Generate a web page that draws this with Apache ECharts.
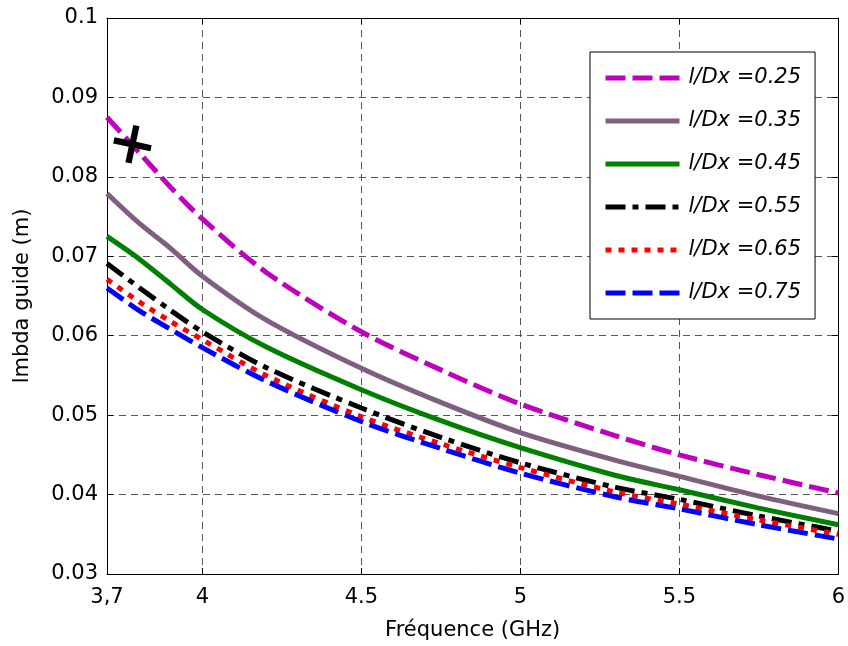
<!DOCTYPE html>
<html>
<head>
<meta charset="utf-8">
<script src="https://cdn.jsdelivr.net/npm/echarts@6/dist/echarts.min.js"></script>
<style>html,body{margin:0;padding:0;background:#fff;}#c{width:848px;height:646px;}</style>
</head>
<body>
<div id="c"></div>
<script>
// ---- data ----
var freq = [3.7, 3.8, 3.9, 4.0, 4.2, 4.5, 4.75, 5.0, 5.3, 5.5, 5.75, 6.0];
var seriesNames = ['l/Dx =0.25', 'l/Dx =0.35', 'l/Dx =0.45', 'l/Dx =0.55', 'l/Dx =0.65', 'l/Dx =0.75'];
var lg025 = [0.0875, 0.0831, 0.0787, 0.0747, 0.0680, 0.0605, 0.0557, 0.0514, 0.0474, 0.0450, 0.0425, 0.0402];
var lg035 = [0.0779, 0.0742, 0.0710, 0.0675, 0.0620, 0.0559, 0.0516, 0.0478, 0.0443, 0.0423, 0.0398, 0.0376];
var lg045 = [0.0725, 0.0697, 0.0665, 0.0633, 0.0586, 0.0532, 0.0493, 0.0459, 0.0424, 0.0406, 0.0383, 0.0362];
var lg055 = [0.0691, 0.0661, 0.0632, 0.0605, 0.0560, 0.0509, 0.0472, 0.0440, 0.0409, 0.0394, 0.0373, 0.0354];
var lg065 = [0.0671, 0.0643, 0.0618, 0.0595, 0.0550, 0.0498, 0.0464, 0.0434, 0.0403, 0.0388, 0.0368, 0.0350];
var lg075 = [0.0660, 0.0632, 0.0608, 0.0585, 0.0543, 0.0492, 0.0458, 0.0427, 0.0397, 0.0382, 0.0362, 0.0344];
var crossPoint = [3.78, 0.0841];
var xTickValues = [3.7, 4, 4.5, 5, 5.5, 6];
var xTickLabels = ['3,7', '4', '4.5', '5', '5.5', '6'];
var yTickValues = [0.03, 0.04, 0.05, 0.06, 0.07, 0.08, 0.09, 0.1];
var yTickLabels = ['0.03', '0.04', '0.05', '0.06', '0.07', '0.08', '0.09', '0.1'];

// ---- styles ----
var allValues = [lg025, lg035, lg045, lg055, lg065, lg075];
var colors = ['#BF00BF', '#7F5F7F', '#007F00', '#000000', '#FF0000', '#0000FF'];
var dashes = [[20, 7], 'solid', 'solid', [20, 7, 6, 7], [6, 7], [20, 7]];

function pairs(ys) { return freq.map(function (x, i) { return [x, ys[i]]; }); }
function lbl(values, labels) {
  return function (v) {
    for (var i = 0; i < values.length; i++) if (Math.abs(values[i] - v) < 1e-6) return labels[i];
    return '';
  };
}

var tickFont = { fontFamily: 'DejaVu Sans', fontSize: 21, color: '#000' };
var gridLine = { show: true, lineStyle: { color: '#555', width: 1, type: [7, 5] } };

var series = allValues.map(function (vals, i) {
  return {
    name: seriesNames[i], type: 'line', data: pairs(vals), symbol: 'none',
    smooth: 0.3,
    lineStyle: { color: colors[i], width: 5, type: dashes[i], cap: 'butt' },
    itemStyle: { color: colors[i] }, z: 3 + i
  };
});
series.push({
  name: 'marker', type: 'scatter', data: [crossPoint],
  symbol: 'path://M-3,-18 L3,-18 L3,-3 L18,-3 L18,3 L3,3 L3,18 L-3,18 L-3,3 L-18,3 L-18,-3 L-3,-3 Z',
  symbolSize: 38, symbolRotate: -12, itemStyle: { color: '#000', opacity: 1 }, z: 10, silent: true
});

var chart = echarts.init(document.getElementById('c'), null, { renderer: 'canvas' });
chart.setOption({
  animation: false,
  backgroundColor: '#fff',
  grid: { left: 107, right: 8, top: 18, bottom: 71, containLabel: false },
  legend: {
    data: seriesNames, orient: 'vertical', left: 590, top: 52,
    backgroundColor: '#fff', borderColor: '#000', borderWidth: 1,
    padding: [15, 14, 15, 13], itemGap: 21, itemWidth: 74, itemHeight: 8,
    itemStyle: { opacity: 0 },
    lineStyle: { width: 5 },
    textStyle: { fontFamily: 'DejaVu Sans', fontStyle: 'italic', fontSize: 21, color: '#000', lineHeight: 22, padding: [0, 0, 0, 4] },
    selectedMode: false
  },
  xAxis: [{
    type: 'value', min: 3.7, max: 6, position: 'bottom',
    name: 'Fréquence (GHz)', nameLocation: 'middle', nameGap: 46,
    nameTextStyle: { fontFamily: 'DejaVu Sans', fontSize: 21, color: '#000' },
    axisLine: { show: true, onZero: false, lineStyle: { color: '#000', width: 1 } },
    axisTick: { show: true, inside: true, length: 6, customValues: xTickValues, lineStyle: { color: '#000' } },
    axisLabel: Object.assign({ margin: 13, customValues: xTickValues, formatter: lbl(xTickValues, xTickLabels), showMinLabel: true, showMaxLabel: true }, tickFont),
    splitLine: gridLine
  }, {
    type: 'value', min: 3.7, max: 6, position: 'top',
    axisLine: { show: true, onZero: false, lineStyle: { color: '#000', width: 1 } },
    axisTick: { show: true, inside: true, length: 6, customValues: xTickValues, lineStyle: { color: '#000' } },
    axisLabel: { show: false }, splitLine: { show: false }
  }],
  yAxis: [{
    type: 'value', min: 0.03, max: 0.1, interval: 0.01, position: 'left',
    name: 'lmbda guide (m)', nameLocation: 'middle', nameGap: 74,
    nameTextStyle: { fontFamily: 'DejaVu Sans', fontSize: 21, color: '#000' },
    axisLine: { show: true, onZero: false, lineStyle: { color: '#000', width: 1 } },
    axisTick: { show: true, inside: true, length: 6, lineStyle: { color: '#000' } },
    axisLabel: Object.assign({ margin: 9, formatter: lbl(yTickValues, yTickLabels), showMinLabel: true, showMaxLabel: true }, tickFont),
    splitLine: gridLine
  }, {
    type: 'value', min: 0.03, max: 0.1, interval: 0.01, position: 'right',
    axisLine: { show: true, onZero: false, lineStyle: { color: '#000', width: 1 } },
    axisTick: { show: true, inside: true, length: 6, lineStyle: { color: '#000' } },
    axisLabel: { show: false }, splitLine: { show: false }
  }],
  series: series
});
</script>
</body>
</html>
